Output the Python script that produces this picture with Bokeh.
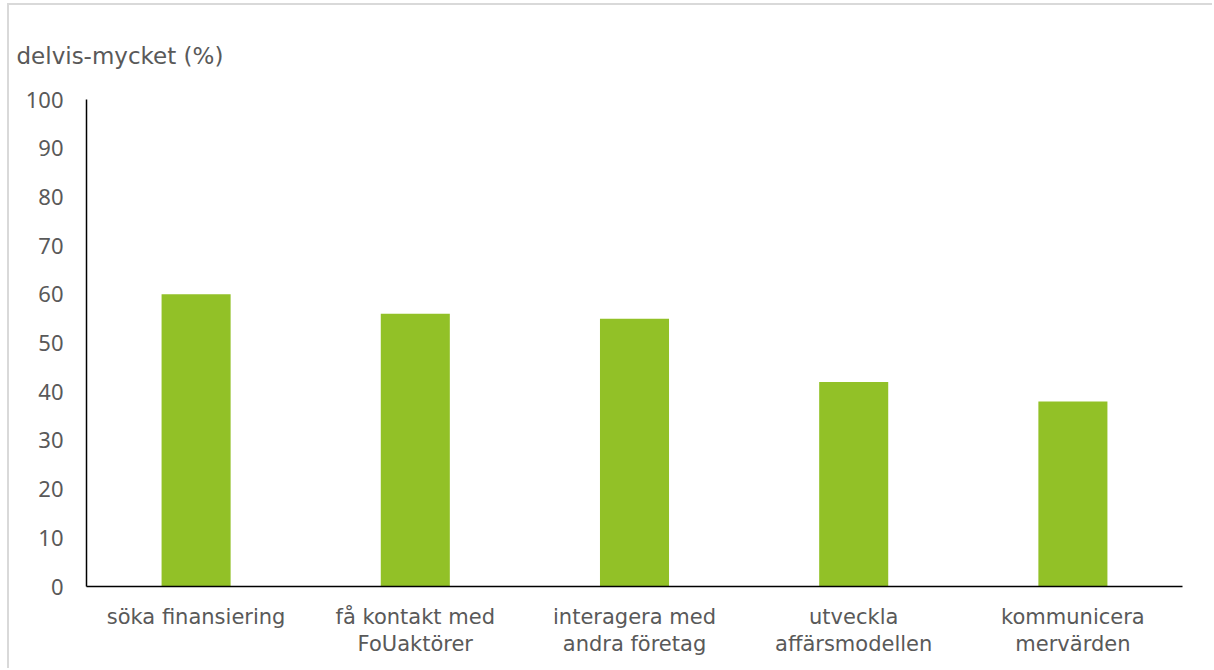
from bokeh.plotting import figure
from bokeh.models import ColumnDataSource, FixedTicker, Range1d
from bokeh.embed import file_html
from bokeh.resources import INLINE

categories = [
    "söka finansiering",
    "få kontakt med\nFoUaktörer",
    "interagera med\nandra företag",
    "utveckla\naffärsmodellen",
    "kommunicera\nmervärden",
]
values = [60, 56, 55, 42, 38]
y_ticks = [0, 10, 20, 30, 40, 50, 60, 70, 80, 90, 100]
y_label = "delvis-mycket (%)"

TEXT_FONT = "DejaVu Sans"
TICK_FONT = "Noto Sans"
GREY = "#595959"

source = ColumnDataSource(data=dict(cat=categories, val=values))

p = figure(
    x_range=categories,
    y_range=Range1d(0, 100),
    width=1205,
    height=665,
    output_backend="svg",
    toolbar_location=None,
    min_border_left=77,
    min_border_right=32,
    min_border_top=94,
    min_border_bottom=84,
    title=y_label,
)
p.styles = {
    "margin-left": "7px",
    "margin-top": "3px",
    "border-left": "2px solid #d9d9d9",
    "border-top": "2px solid #d9d9d9",
}

p.vbar(x="cat", top="val", width=0.315, source=source,
       fill_color="#92C127", line_color=None)

# unit caption shown as a left-aligned title above the value axis
p.title.text_font = TEXT_FONT
p.title.text_font_size = "23px"
p.title.text_font_style = "normal"
p.title.text_color = GREY
p.title.align = "left"
p.title.offset = -70
p.title.standoff = 62

p.outline_line_color = None
p.xgrid.grid_line_color = None
p.ygrid.grid_line_color = None

for ax in (p.xaxis, p.yaxis):
    ax.axis_line_color = "black"
    ax.axis_line_width = 1.5
    ax.major_tick_line_color = None
    ax.minor_tick_line_color = None
    ax.major_label_text_color = GREY

p.yaxis.ticker = FixedTicker(ticks=y_ticks)
p.yaxis.major_label_text_font = TICK_FONT
p.yaxis.major_label_text_font_size = "22px"
p.yaxis.major_label_standoff = 17

p.xaxis.major_label_text_font = TEXT_FONT
p.xaxis.major_label_text_font_size = "21px"
p.xaxis.major_label_text_line_height = 1.15
p.xaxis.major_label_standoff = 12
p.x_range.range_padding = 0

open("out.html", "w").write(file_html(p, INLINE))
